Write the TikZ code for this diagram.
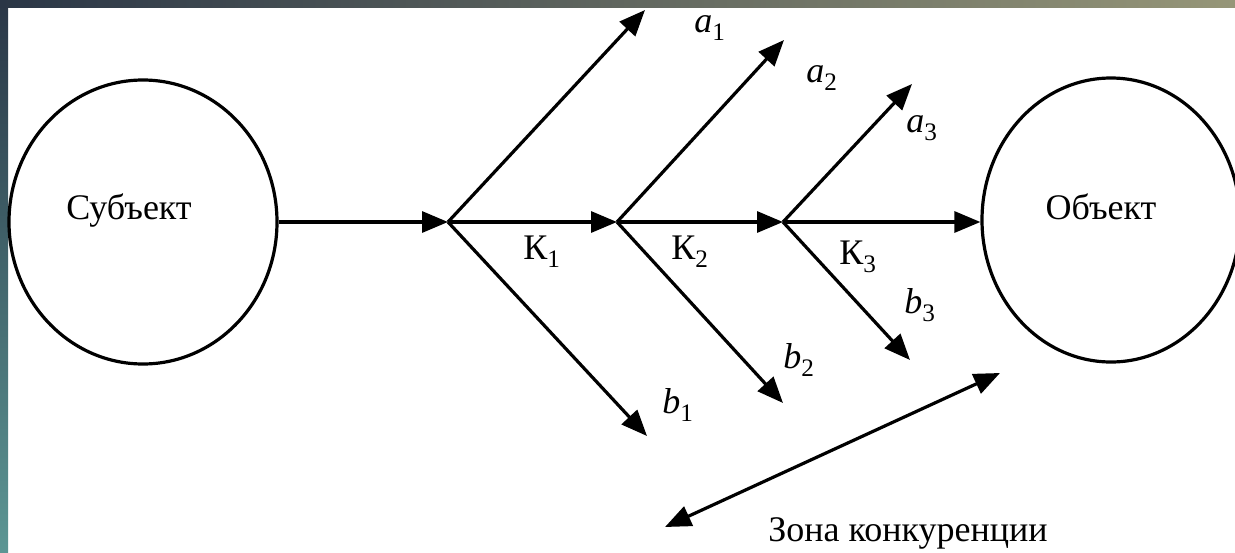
\documentclass[tikz,border=0pt]{standalone}
\usepackage{fontspec}
\setmainfont{Liberation Serif}
\usetikzlibrary{arrows.meta,positioning,shapes.geometric}
\definecolor{frameDark}{RGB}{42,54,70}
\definecolor{frameTeal}{RGB}{92,150,148}
\definecolor{frameSand}{RGB}{150,150,120}

\begin{document}
\begin{tikzpicture}[x=1pt,y=-1pt,>={Triangle[length=26pt,width=21pt]},font=\fontsize{36}{40}\selectfont]
\tikzstyle{party}=[ellipse,draw,line width=3.2pt,inner sep=0pt,minimum height=284pt]
\tikzstyle{arr}=[->,line width=3.2pt]
\tikzstyle{lbl}=[inner sep=0pt]
\useasboundingbox (0,0) rectangle (1235,552);
\fill[white] (0,0) rectangle (1235,552);
\shade[top color=frameDark,bottom color=frameTeal] (0,0) rectangle (8,552);
\shade[left color=frameDark,right color=frameSand] (0,0) rectangle (1235,7);
% subject and object
\node[party,minimum width=268pt] (subj) at (143,222) {};
\node[lbl] (subjlbl) at (129,210) {Субъект};
\node[party,minimum width=258pt] (obj) at (1111,220) {};
\node[lbl] (objlbl) at (1101,207) {Объект};
% junctions and arrow ends
\coordinate (j1) at (448,222);
\coordinate (j2) at (617,222);
\coordinate (j3) at (783,222);
\foreach \n/\xa/\ya/\xb/\yb in {1/645/10/647/436, 2/784/40/783/403, 3/912/84/910/360} {
  \coordinate (ta\n) at (\xa,\ya);
  \coordinate (tb\n) at (\xb,\yb);
}
% main line
\draw[arr] (subj.east) -- (j1);
\draw[arr] (j1) -- (j2);
\draw[arr] (j2) -- (j3);
\draw[arr] (j3) -- (j3 -| obj.west);
% branches
\foreach \n in {1,2,3} {
  \draw[arr] (j\n) -- (ta\n);
  \draw[arr] (j\n) -- (tb\n);
}
\node[lbl] (la1) at (710,28) {\textit{a}\textsubscript{1}};
\node[lbl] (la2) at (822,78) {\textit{a}\textsubscript{2}};
\node[lbl] (la3) at (922,128) {\textit{a}\textsubscript{3}};
\node[lbl] (lb1) at (678,405) {\textit{b}\textsubscript{1}};
\node[lbl] (lb2) at (799,360) {\textit{b}\textsubscript{2}};
\node[lbl] (lb3) at (920,305) {\textit{b}\textsubscript{3}};
\node[lbl] (k1) at (542,252) {К\textsubscript{1}};
\node[lbl] (k2) at (690,252) {К\textsubscript{2}};
\node[lbl] (k3) at (858,257) {К\textsubscript{3}};
% competition zone
\coordinate (z1) at (665,527);
\coordinate (z2) at (1000,373);
\draw[<->,line width=3.2pt] (z1) -- (z2);
\node[lbl] (zone) at (908,533) {Зона конкуренции};
\end{tikzpicture}
\end{document}
